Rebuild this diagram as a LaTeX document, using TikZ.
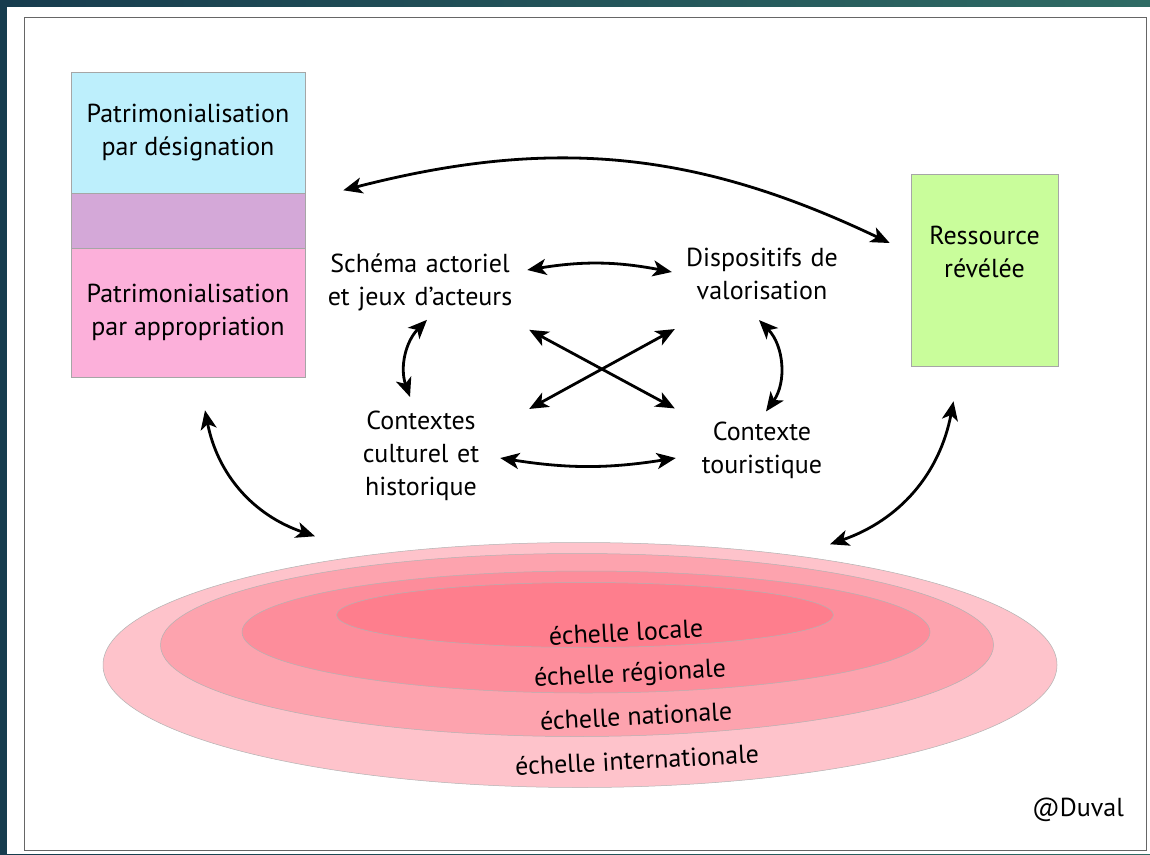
\documentclass[tikz,border=0pt]{standalone}
\usepackage{fontspec}
\setmainfont{PT Sans}
\usetikzlibrary{positioning,calc,arrows.meta,shapes.geometric}
\definecolor{bgleft}{HTML}{173C4E}
\definecolor{bgright}{HTML}{2F6B64}
\definecolor{desigblue}{HTML}{BDEFFC}
\definecolor{mixpurple}{HTML}{D4A8D8}
\definecolor{appropink}{HTML}{FCB0DA}
\definecolor{resgreen}{HTML}{C9FD9B}
\definecolor{intlred}{HTML}{FEC3CB}
\definecolor{natred}{HTML}{FDA3AE}
\definecolor{regred}{HTML}{FD8D9B}
\definecolor{locred}{HTML}{FE7E8D}
\tikzset{font=\fontsize{26}{33}\selectfont}

\begin{document}
\begin{tikzpicture}[x=1pt,y=-1pt,
	txt/.style={align=center, inner sep=0pt},
	box/.style={draw=black!35, line width=0.6pt, minimum width=234pt, inner sep=0pt, align=center},
	scaleell/.style={ellipse, draw=black!30, line width=0.5pt, inner sep=0pt},
	dbl/.style={{Stealth[length=19pt,width=16pt,inset=5pt]}-{Stealth[length=19pt,width=16pt,inset=5pt]}, line width=2.8pt}]
	\useasboundingbox (0,0) rectangle (1150,854);
	\shade[left color=bgleft, right color=bgright] (0,0) rectangle (1150,854);
	\fill[white] (7,7) rectangle (1150,854);
	\draw[black!60, line width=0.8pt] (24,17) rectangle (1146,850);

	\node[box, fill=desigblue, minimum height=121pt] (desig) at (188,132.5) {Patrimonialisation\\par désignation};
	\node[box, fill=mixpurple, minimum height=55pt] (mix) at (188,220.5) {};
	\node[box, fill=appropink, minimum height=129pt] (appro) at (188,312.5) {Patrimonialisation\\par appropriation};

	\node[box, fill=resgreen, minimum width=147pt, minimum height=192pt] (res) at (984.5,270) {};
	\node[txt, below=52pt of res.north] (restxt) {Ressource\\révélée};

	\node[txt, text width=196pt] (sch) at (420,282) {Schéma actoriel\\et jeux d’acteurs};
	\node[txt, text width=160pt] (dis) at (762,274) {Dispositifs de\\valorisation};
	\node[txt, text width=130pt] (ctx) at (421,456) {Contextes\\culturel et\\historique};
	\node[txt, text width=130pt] (tou) at (762,450) {Contexte\\touristique};

	\node[scaleell, fill=intlred, minimum width=954pt, minimum height=245pt] (intl) at (580,665) {};
	\node[scaleell, fill=natred, minimum width=833pt, minimum height=183pt] (nat) at (577,645) {};
	\node[scaleell, fill=regred, minimum width=688pt, minimum height=122pt] (reg) at (586,632) {};
	\node[scaleell, fill=locred, minimum width=497pt, minimum height=65pt] (loc) at (585,615) {};

	\node[txt, rotate=3] (locl) at (626,632) {échelle locale};
	\node[txt, rotate=3] (regl) at (630,675) {échelle régionale};
	\node[txt, rotate=3] (natl) at (636,716) {échelle nationale};
	\node[txt, rotate=3] (intll) at (637,760) {échelle internationale};

	\node[txt] (author) at (1078,810) {@Duval};

	\draw[dbl] ([shift={(9,-12)}]sch.east) to[bend left=10] ([shift={(-10,-2)}]dis.west);
	\draw[dbl] ([shift={(14,2)}]ctx.east) to[bend right=9] ([shift={(-21,8)}]tou.west);
	\draw[dbl] ([shift={(7,9)}]sch.south) to[bend right=32] ([shift={(-11,-14)}]ctx.north);
	\draw[dbl] ([shift={(-3,20)}]dis.south) to[bend left=40] ([shift={(4,-10)}]tou.north);
	\draw[dbl] ([shift={(11,19)}]sch.south east) -- ([shift={(-22,-13)}]tou.north west);
	\draw[dbl] ([shift={(-7,29)}]dis.south west) -- ([shift={(43,-2)}]ctx.north east);

	\draw[dbl] ([shift={(38,-3)}]desig.south east) to[bend left=20] ([shift={(-21,-27)}]res.west);
	\draw[dbl] ([shift={(17,33)}]appro.south) to[bend right=30] ([shift={(-265,-6)}]intl.north);
	\draw[dbl] ([shift={(-31,35)}]res.south) to[bend left=30] ([shift={(250,2)}]intl.north);
\end{tikzpicture}
\end{document}
